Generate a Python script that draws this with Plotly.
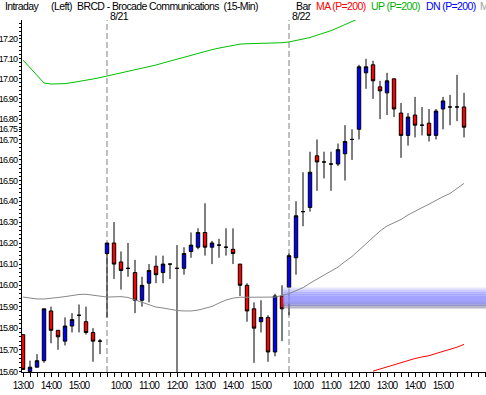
import math
import plotly.graph_objects as go

# ---------------- data (15-min bars: 8/20 13:00 .. 8/22 15:45) ----------------
bar_index = list(range(64))

open_ = [15.77, 15.60, 15.62, 15.65, 15.88, 15.79, 15.74, 15.81, 15.86, 15.83, 15.78, 15.74,
         16.15, 16.20, 16.11, 16.08, 16.06, 15.93, 16.01, 16.09, 16.06, 16.10, 16.08, 16.08,
         16.16, 16.18, 16.25, 16.18, 16.19, 16.18, 16.17, 16.10, 16.00, 15.89, 15.83, 15.85,
         15.69, 15.95,
         15.99, 16.13, 16.35, 16.37, 16.62, 16.59, 16.58, 16.58, 16.63, 16.70, 16.75, 17.03,
         17.07, 16.96, 16.93, 17.00, 16.83, 16.72, 16.82, 16.77, 16.78, 16.72, 16.85, 16.86,
         16.86, 16.86]
high = [15.77, 15.65, 15.68, 15.89, 15.90, 15.79, 15.85, 15.87, 15.91, 15.90, 15.80, 15.75,
        16.20, 16.30, 16.16, 16.20, 16.12, 16.04, 16.10, 16.14, 16.14, 16.10, 16.19, 16.18,
        16.25, 16.27, 16.39, 16.21, 16.22, 16.27, 16.27, 16.10, 16.01, 15.92, 15.93, 15.86,
        15.96, 16.00,
        16.15, 16.40, 16.54, 16.64, 16.70, 16.64, 16.64, 16.68, 16.77, 16.75, 17.07, 17.10,
        17.09, 16.99, 17.03, 17.00, 16.88, 16.83, 16.91, 16.86, 16.85, 16.85, 16.91, 16.92,
        17.02, 16.93]
low = [15.61, 15.60, 15.62, 15.64, 15.73, 15.70, 15.72, 15.78, 15.78, 15.77, 15.645, 15.68,
       15.85, 16.03, 15.98, 16.04, 15.87, 15.90, 15.92, 16.01, 16.01, 16.03, 15.45, 16.05,
       16.13, 16.17, 16.14, 16.10, 16.13, 16.14, 16.10, 15.95, 15.83, 15.64, 15.78, 15.645,
       15.67, 15.74,
       15.86, 16.05, 16.28, 16.35, 16.45, 16.51, 16.45, 16.57, 16.50, 16.60, 16.70, 16.95,
       16.90, 16.80, 16.82, 16.81, 16.61, 16.67, 16.71, 16.72, 16.69, 16.70, 16.75, 16.77,
       16.79, 16.71]
close = [15.61, 15.62, 15.65, 15.89, 15.79, 15.76, 15.81, 15.84, 15.86, 15.78, 15.74, 15.74,
         16.20, 16.10, 16.07, 16.08, 15.93, 16.00, 16.07, 16.05, 16.10, 16.10, 16.08, 16.15,
         16.19, 16.25, 16.18, 16.20, 16.19, 16.18, 16.15, 16.00, 15.88, 15.80, 15.85, 15.69,
         15.95, 15.89,
         16.14, 16.33, 16.35, 16.54, 16.59, 16.59, 16.58, 16.65, 16.69, 16.70, 17.06, 17.06,
         16.99, 16.94, 16.99, 16.85, 16.72, 16.81, 16.77, 16.77, 16.72, 16.84, 16.89, 16.86,
         16.86, 16.76]

# upper (green) line, bars 0..49
up_line = [17.094, 17.055, 17.017, 16.979, 16.974, 16.974, 16.976, 16.981, 16.986, 16.991,
           16.999, 17.006, 17.014, 17.021, 17.029, 17.036, 17.044, 17.051, 17.059, 17.069,
           17.079, 17.089, 17.099, 17.109, 17.119, 17.129, 17.139, 17.146, 17.154, 17.161,
           17.169, 17.174, 17.176, 17.177, 17.177, 17.178, 17.179, 17.181, 17.185, 17.192,
           17.199, 17.207, 17.219, 17.229, 17.242, 17.257, 17.272, 17.287, 17.305, 17.320]
# middle (gray) line, bars 0..63
mid_line = [15.945, 15.940, 15.936, 15.936, 15.938, 15.943, 15.947, 15.952, 15.957, 15.958,
            15.954, 15.947, 15.945, 15.946, 15.947, 15.943, 15.931, 15.919, 15.908, 15.898,
            15.894, 15.887, 15.882, 15.880, 15.880, 15.884, 15.891, 15.901, 15.917, 15.931,
            15.940, 15.944, 15.944, 15.944, 15.944, 15.944, 15.945, 15.952, 15.961, 15.975,
            15.989, 16.010, 16.029, 16.048, 16.065, 16.086, 16.112, 16.136, 16.166, 16.195,
            16.226, 16.257, 16.281, 16.295, 16.312, 16.334, 16.353, 16.369, 16.386, 16.405,
            16.422, 16.437, 16.461, 16.486]
# lower (red) line, bars 50..63
dn_start = 50
dn_line = [15.602, 15.612, 15.621, 15.630, 15.641, 15.650, 15.660, 15.667, 15.673, 15.683,
           15.692, 15.701, 15.712, 15.725]

# shaded price zone (blue band) from bar 37 on
band_start = 37.15
band_top = 15.99
band_bottom = 15.892

hour_ticks = [0, 4, 8, 14, 18, 22, 26, 30, 34, 40, 44, 48, 52, 56, 60]
hour_labels = ["13:00", "14:00", "15:00", "10:00", "11:00", "12:00", "13:00", "14:00",
               "15:00", "10:00", "11:00", "12:00", "13:00", "14:00", "15:00"]
price_ticks = [15.60, 15.70, 15.80, 15.90, 16.00, 16.10, 16.20, 16.30, 16.40, 16.50,
               16.60, 16.70, 16.75, 16.80, 16.90, 17.00, 17.10, 17.20]
day_starts = [12, 38]
day_labels = ["8/21", "8/22"]

# ---------------- layout constants ----------------
W, H = 486, 395
ML, MR, MT, MB = 22, 0, 20, 23
PW = W - ML - MR
PH = H - MT - MB
FONT = "Liberation Sans, Arial, sans-serif"
x_range = [-0.143, 66.14]
y_lo, y_hi = 15.598, 17.296


def tight(s, ls):
    return '<span style="letter-spacing:%spx">%s</span>' % (ls, s)


fig = go.Figure()

fig.add_trace(go.Candlestick(
    x=bar_index, open=open_, high=high, low=low, close=close,
    increasing=dict(fillcolor="#0000ff", line=dict(color="black", width=1)),
    decreasing=dict(fillcolor="#ff0000", line=dict(color="black", width=1)),
    whiskerwidth=0, hoverinfo="skip", showlegend=False))

# blue band as stacked strips (gradient)
band_colors = ["rgba(225,225,255,0.85)", "rgba(195,195,255,0.85)", "rgba(165,165,255,0.85)",
               "rgba(152,152,255,0.88)", "rgba(150,150,255,0.88)", "rgba(150,150,255,0.88)",
               "rgba(148,148,250,0.88)", "rgba(140,140,235,0.88)", "rgba(128,128,200,0.85)",
               "rgba(150,150,170,0.7)"]
n = len(band_colors)
lt, lb = math.log(band_top), math.log(band_bottom)
for k, col in enumerate(band_colors):
    p0 = math.exp(lt + (lb - lt) * k / n)
    p1 = math.exp(lt + (lb - lt) * (k + 1) / n)
    fig.add_trace(go.Scatter(
        x=[band_start, 67, 67, band_start, band_start], y=[p0, p0, p1, p1, p0],
        mode="lines", fill="toself", fillcolor=col, line=dict(width=0),
        hoverinfo="skip", showlegend=False))

fig.add_trace(go.Scatter(x=bar_index[:len(up_line)], y=up_line, mode="lines",
                         line=dict(color="#00c000", width=1), hoverinfo="skip", showlegend=False))
fig.add_trace(go.Scatter(x=bar_index, y=mid_line, mode="lines",
                         line=dict(color="#888888", width=1), hoverinfo="skip", showlegend=False))
fig.add_trace(go.Scatter(x=bar_index[dn_start:dn_start + len(dn_line)], y=dn_line, mode="lines",
                         line=dict(color="#ff0000", width=1), hoverinfo="skip", showlegend=False))

shapes = []
for d in day_starts:
    shapes.append(dict(type="line", xref="x", yref="paper", x0=d, x1=d, y0=0, y1=1,
                       line=dict(color="#808080", width=1, dash="6px,3px"), layer="below"))


def px_x(px):
    return (px - ML) / PW


def px_y(py):
    return (H - MB - py) / PH


annotations = []


def add_text(px, py, text, color="black"):
    annotations.append(dict(xref="paper", yref="paper", x=px_x(px), y=px_y(py),
                            text=tight(text, -0.6),
                            showarrow=False, xanchor="left", yanchor="middle",
                            font=dict(family=FONT, size=10.5, color=color), borderpad=0))


add_text(4, 6, "Intraday")
add_text(50, 6, "(Left)")
add_text(76, 6, "BRCD - Brocade Communications\u00a0 (15-Min)")
add_text(295, 6, "Bar")
add_text(315, 6, "MA (P=200)", "#ff0000")
add_text(370, 6, "UP (P=200)", "#00b000")
add_text(425, 6, "DN (P=200)", "#0000ff")
add_text(479, 6, "M", "#a0a0a0")
for d, lab in zip(day_starts, day_labels):
    annotations.append(dict(xref="x", yref="paper", x=d + 0.35, y=px_y(15.5),
                            text=tight(lab, -0.6),
                            showarrow=False, xanchor="left", yanchor="middle",
                            font=dict(family=FONT, size=10.5, color="black"), borderpad=0))

minor_y = [round(15.60 + 0.02 * i, 2) for i in range(0, 86)]

fig.update_layout(
    width=W, height=H, margin=dict(l=ML, r=MR, t=MT, b=MB),
    paper_bgcolor="white", plot_bgcolor="white",
    shapes=shapes, annotations=annotations, showlegend=False,
    font=dict(family=FONT, size=10, color="black"),
    xaxis=dict(range=x_range, rangeslider=dict(visible=False), showgrid=False, zeroline=False,
               automargin=False, tickangle=0,
               showline=True, linecolor="black", linewidth=1,
               tickmode="array", tickvals=hour_ticks,
               ticktext=[tight(t, -0.9) for t in hour_labels],
               ticks="outside", ticklen=4, tickcolor="black", tickwidth=1,
               minor=dict(tickmode="linear", tick0=0, dtick=1, ticks="outside", ticklen=4,
                          tickcolor="black", showgrid=False),
               tickfont=dict(family=FONT, size=10, color="black")),
    yaxis=dict(type="log", range=[math.log10(y_lo), math.log10(y_hi)], showgrid=False,
               automargin=False,
               zeroline=False, showline=True, linecolor="black", linewidth=1,
               tickmode="array", tickvals=price_ticks,
               ticktext=[tight("%.2f" % v, -0.8) for v in price_ticks],
               ticks="outside", ticklen=2, tickcolor="black",
               minor=dict(tickmode="array", tickvals=minor_y, ticks="outside", ticklen=2,
                          tickcolor="black", showgrid=False),
               tickfont=dict(family=FONT, size=9, color="black")),
)

# the page's default 8px body margin would shift the chart; remove it
fig.write_html("out.html", config={"displayModeBar": False},
               post_script="document.body.style.margin='0px';")
